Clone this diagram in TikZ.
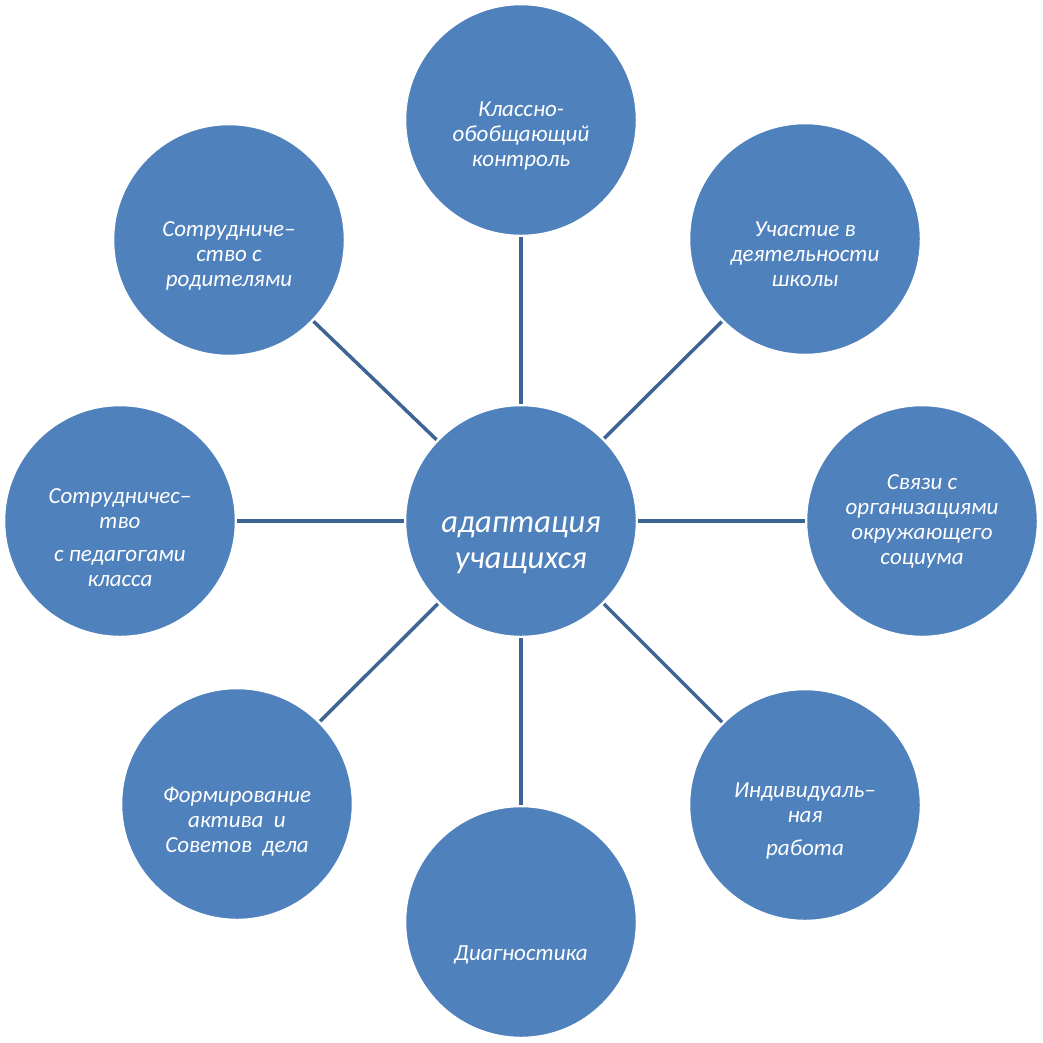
\documentclass[tikz,border=0pt]{standalone}
\usepackage{fontspec}
\setmainfont{Carlito}
\usetikzlibrary{positioning}
\definecolor{circblue}{RGB}{79,129,189}
\definecolor{linkblue}{RGB}{61,100,148}
\tikzset{
  % круг
  circ/.style={
    circle,
    fill=circblue,
    draw=white,
    line width=2.5pt,
    minimum size=232pt,
    inner sep=0pt
  },
  % подпись в круге
  lbl/.style={
    text=white,
    align=center,
    font=\fontsize{23}{25}\selectfont\itshape
  },
  % подпись в центре
  mainlbl/.style={lbl, font=\fontsize{32.5}{36}\selectfont\itshape},
  % линия
  link/.style={linkblue, line width=3.5pt},
}

\begin{document}
\begin{tikzpicture}[x=1pt, y=-1pt]
  \useasboundingbox (0,0) rectangle (1043,1042);

  % Circles
  \node[circ] (center) at (521,521) {};
  \foreach \n/\x/\y in {top/521/120, tr/805/239, right/922/521, br/805/805,
                        bottom/521/922, bl/237/804, left/120/521, tl/229/240} {
    \node[circ] (\n) at (\x,\y) {};
  }

  % Links
  \foreach \n in {top, tr, right, br, bottom, bl, left, tl}
    \draw[link] (center) -- (\n);

  % Labels
  \node[mainlbl] (centertxt) at (521,545) {адаптация\\учащихся};
  \node[lbl] (toptxt) at (521,136) {Классно-\\обобщающий\\контроль};
  \node[lbl] (trtxt) at (805,254) {Участие в\\деятельности\\школы};
  \node[lbl] (righttxt) at (922,521) {Связи с\\организациями\\окружающего\\социума};
  \node[lbl] (brtxt) at (805,821) {Индивидуаль–\\ная\\[8pt]работа};
  \node[lbl] (bottomtxt) at (521,955) {Диагностика};
  \node[lbl] (bltxt) at (237,822) {Формирование\\актива~~и\\Советов~~дела};
  \node[lbl] (lefttxt) at (120,538) {Сотрудничес–\\тво\\[8pt]с педагогами\\класса};
  \node[lbl] (tltxt) at (229,256) {Сотрудниче–\\ство с\\родителями};
\end{tikzpicture}
\end{document}
